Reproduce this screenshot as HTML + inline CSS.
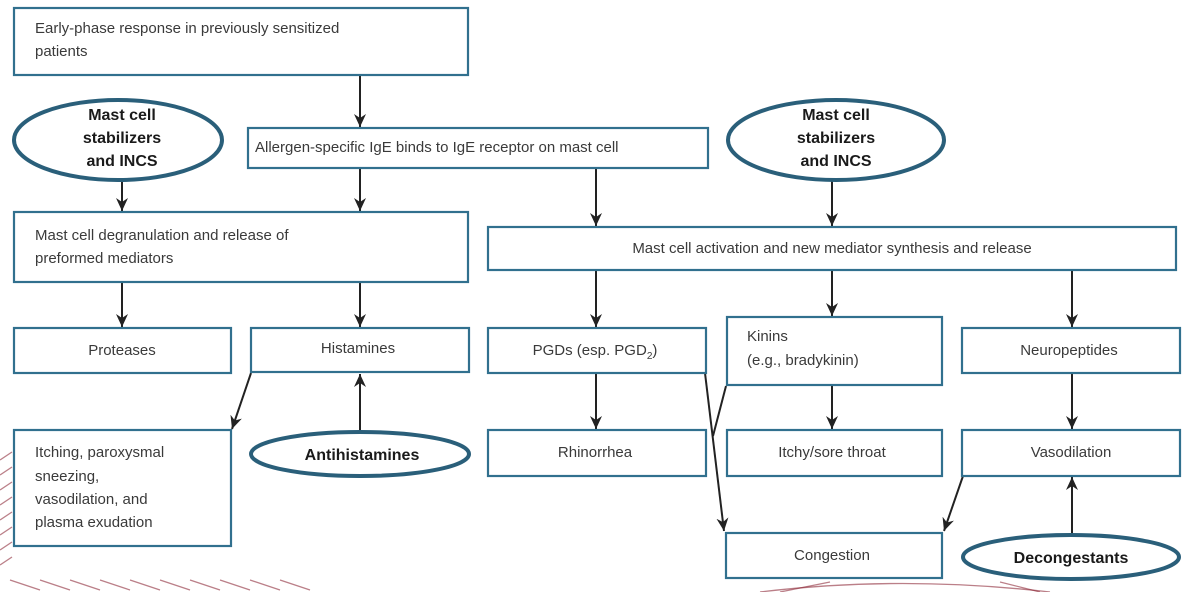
<!DOCTYPE html>
<html><head><meta charset="utf-8"><style>
html,body{margin:0;padding:0;background:#fff;}
svg{display:block}
text{font-family:"Liberation Sans",sans-serif;font-size:15px;fill:#3a3a3a}
.b{font-weight:bold;font-size:16px;fill:#1a1a1a}
rect{fill:#fff;stroke:#31708e;stroke-width:2.2}
ellipse{fill:#fff;stroke:#2a5f7a;stroke-width:4}
line,path.l{stroke:#222;stroke-width:2;fill:none}
.h line,.h path{stroke:#8e2a38;stroke-width:1.3;opacity:.6;fill:none}
</style></head><body>
<svg width="1188" height="592" viewBox="0 0 1188 592">
<defs><marker id="a" markerWidth="14" markerHeight="14" refX="13" refY="6" orient="auto" markerUnits="userSpaceOnUse"><path d="M0,0 L13,6 L0,12 L4,6 z" fill="#222"/></marker></defs>
<g class="h">
<line x1="0" y1="460" x2="12" y2="452"/><line x1="0" y1="475" x2="12" y2="467"/><line x1="0" y1="490" x2="12" y2="482"/><line x1="0" y1="505" x2="12" y2="497"/><line x1="0" y1="520" x2="12" y2="512"/><line x1="0" y1="535" x2="12" y2="527"/><line x1="0" y1="550" x2="12" y2="542"/><line x1="0" y1="565" x2="12" y2="557"/>
<line x1="10" y1="580" x2="40" y2="590"/><line x1="40" y1="580" x2="70" y2="590"/><line x1="70" y1="580" x2="100" y2="590"/><line x1="100" y1="580" x2="130" y2="590"/><line x1="130" y1="580" x2="160" y2="590"/><line x1="160" y1="580" x2="190" y2="590"/><line x1="190" y1="580" x2="220" y2="590"/><line x1="220" y1="580" x2="250" y2="590"/><line x1="250" y1="580" x2="280" y2="590"/><line x1="280" y1="580" x2="310" y2="590"/>
<path d="M760,592 Q900,575 1050,592"/><path d="M780,592 L830,582"/><path d="M1000,582 L1040,592"/>
</g>
<line x1="360" y1="76" x2="360" y2="127" marker-end="url(#a)"/>
<line x1="122" y1="181" x2="122" y2="211" marker-end="url(#a)"/>
<line x1="360" y1="169" x2="360" y2="211" marker-end="url(#a)"/>
<line x1="596" y1="169" x2="596" y2="226" marker-end="url(#a)"/>
<line x1="832" y1="181" x2="832" y2="226" marker-end="url(#a)"/>
<line x1="122" y1="283" x2="122" y2="327" marker-end="url(#a)"/>
<line x1="360" y1="283" x2="360" y2="327" marker-end="url(#a)"/>
<line x1="596" y1="271" x2="596" y2="327" marker-end="url(#a)"/>
<line x1="832" y1="271" x2="832" y2="316" marker-end="url(#a)"/>
<line x1="1072" y1="271" x2="1072" y2="327" marker-end="url(#a)"/>
<line x1="596" y1="374" x2="596" y2="429" marker-end="url(#a)"/>
<line x1="832" y1="386" x2="832" y2="429" marker-end="url(#a)"/>
<line x1="1072" y1="374" x2="1072" y2="429" marker-end="url(#a)"/>
<line x1="251" y1="373" x2="232" y2="429" marker-end="url(#a)"/>
<line x1="360" y1="430" x2="360" y2="374" marker-end="url(#a)"/>
<line x1="705" y1="373" x2="724" y2="531" marker-end="url(#a)"/>
<line x1="726" y1="386" x2="713" y2="436"/>
<line x1="963" y1="476" x2="944" y2="531" marker-end="url(#a)"/>
<line x1="1072" y1="533" x2="1072" y2="477" marker-end="url(#a)"/>
<rect x="14" y="8" width="454" height="67"/>
<text x="35" y="33">Early-phase response in previously sensitized</text>
<text x="35" y="56">patients</text>
<ellipse cx="118" cy="140" rx="104" ry="40"/>
<text class="b" x="122" y="120" text-anchor="middle">Mast cell</text>
<text class="b" x="122" y="143" text-anchor="middle">stabilizers</text>
<text class="b" x="122" y="166" text-anchor="middle">and INCS</text>
<rect x="248" y="128" width="460" height="40"/>
<text x="255" y="152">Allergen-specific IgE binds to IgE receptor on mast cell</text>
<ellipse cx="836" cy="140" rx="108" ry="40"/>
<text class="b" x="836" y="120" text-anchor="middle">Mast cell</text>
<text class="b" x="836" y="143" text-anchor="middle">stabilizers</text>
<text class="b" x="836" y="166" text-anchor="middle">and INCS</text>
<rect x="14" y="212" width="454" height="70"/>
<text x="35" y="240">Mast cell degranulation and release of</text>
<text x="35" y="263">preformed mediators</text>
<rect x="488" y="227" width="688" height="43"/>
<text x="832" y="253" text-anchor="middle">Mast cell activation and new mediator synthesis and release</text>
<rect x="14" y="328" width="217" height="45"/>
<text x="122" y="355" text-anchor="middle">Proteases</text>
<rect x="251" y="328" width="218" height="44"/>
<text x="358" y="353" text-anchor="middle">Histamines</text>
<rect x="488" y="328" width="218" height="45"/>
<text x="595" y="355" text-anchor="middle">PGDs (esp. PGD<tspan font-size="10" dy="4">2</tspan><tspan dy="-4">)</tspan></text>
<rect x="727" y="317" width="215" height="68"/>
<text x="747" y="341">Kinins</text>
<text x="747" y="365">(e.g., bradykinin)</text>
<rect x="962" y="328" width="218" height="45"/>
<text x="1069" y="355" text-anchor="middle">Neuropeptides</text>
<rect x="14" y="430" width="217" height="116"/>
<text x="35" y="457">Itching, paroxysmal</text>
<text x="35" y="481">sneezing,</text>
<text x="35" y="504">vasodilation, and</text>
<text x="35" y="527">plasma exudation</text>
<ellipse cx="360" cy="454" rx="109" ry="22"/>
<text class="b" x="362" y="460" text-anchor="middle">Antihistamines</text>
<rect x="488" y="430" width="218" height="46"/>
<text x="595" y="457" text-anchor="middle">Rhinorrhea</text>
<rect x="727" y="430" width="215" height="46"/>
<text x="832" y="457" text-anchor="middle">Itchy/sore throat</text>
<rect x="962" y="430" width="218" height="46"/>
<text x="1071" y="457" text-anchor="middle">Vasodilation</text>
<rect x="726" y="533" width="216" height="45"/>
<text x="832" y="560" text-anchor="middle">Congestion</text>
<ellipse cx="1071" cy="557" rx="108" ry="22"/>
<text class="b" x="1071" y="563" text-anchor="middle">Decongestants</text>
</svg>
</body></html>
